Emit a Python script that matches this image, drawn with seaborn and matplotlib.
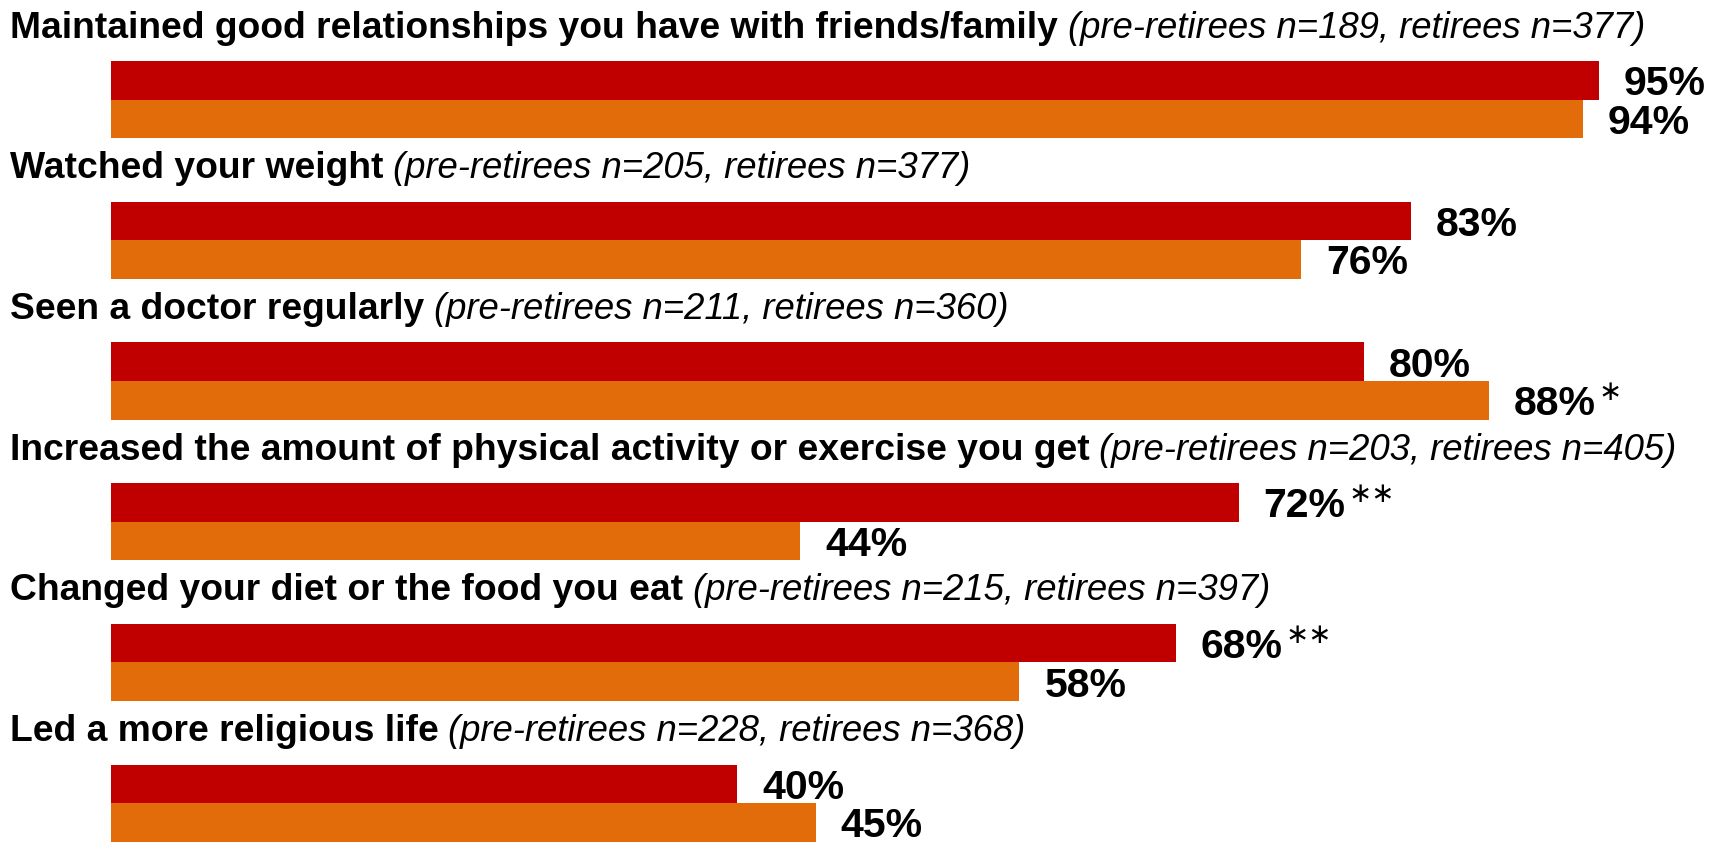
import matplotlib
matplotlib.use("Agg")
import matplotlib.pyplot as plt
import matplotlib.transforms as mtrans
import seaborn as sns
import pandas as pd

categories = [
    "Maintained good relationships you have with friends/family",
    "Watched your weight",
    "Seen a doctor regularly",
    "Increased the amount of physical activity or exercise you get",
    "Changed your diet or the food you eat",
    "Led a more religious life",
]
sample_notes = [
    "(pre-retirees n=189, retirees n=377)",
    "(pre-retirees n=205, retirees n=377)",
    "(pre-retirees n=211, retirees n=360)",
    "(pre-retirees n=203, retirees n=405)",
    "(pre-retirees n=215, retirees n=397)",
    "(pre-retirees n=228, retirees n=368)",
]
series = ["Pre-retirees", "Retirees"]
pre_values = [95, 83, 80, 72, 68, 40]
ret_values = [94, 76, 88, 44, 58, 45]
pre_marks = ["", "", "", "∗∗", "∗∗", ""]
ret_marks = ["", "", "∗", "", "", ""]
colors = ["#C00000", "#E36C0A"]

df = pd.DataFrame({
    "category": categories * 2,
    "group": [series[0]] * len(categories) + [series[1]] * len(categories),
    "value": pre_values + ret_values,
})

sns.set_theme(style="white")
plt.rcParams["font.family"] = ["Liberation Sans", "DejaVu Sans"]

W, H = 1714, 845
fig = plt.figure(figsize=(W / 100, H / 100), dpi=100)
ax = fig.add_axes([0, 0, 1, 1])

sns.barplot(data=df, y="category", x="value", hue="group", order=categories,
            hue_order=series, palette=colors, orient="h", width=0.549,
            linewidth=0, saturation=1, errorbar=None, legend=False, ax=ax)

ax.set_xlim(-7.088, 102.36)
ax.set_ylim(5.290, -0.7157)
ax.axis("off")

# value labels and significance markers
for cont, vals, marks in zip(ax.containers, [pre_values, ret_values], [pre_marks, ret_marks]):
    for bar, v, m in zip(cont, vals, marks):
        x = bar.get_x() + bar.get_width()
        y = bar.get_y() + bar.get_height() / 2
        t = ax.annotate(f"{v}%", xy=(x, y), xytext=(18, -2), textcoords="offset points",
                        ha="left", va="center", fontsize=29.5, fontweight="bold", color="black")
        if m:
            ax.annotate(m, xy=(1, 1), xycoords=t, xytext=(2, 5), textcoords="offset points",
                        ha="left", va="top", fontsize=20, color="black",
                        family=["DejaVu Sans"])

# category headings
trans = mtrans.blended_transform_factory(ax.transAxes, ax.transData)
for i, (c, n) in enumerate(zip(categories, sample_notes)):
    t = ax.text(10 / W, i - 0.448, c, transform=trans, fontsize=26.8, fontweight="bold",
                va="baseline", ha="left", color="black")
    ax.annotate(n, xy=(1, 0), xycoords=t, xytext=(7, 0), textcoords="offset points",
                fontsize=26.3, fontstyle="italic", va="bottom", ha="left", color="black")

fig.savefig("out.png", dpi=100)
